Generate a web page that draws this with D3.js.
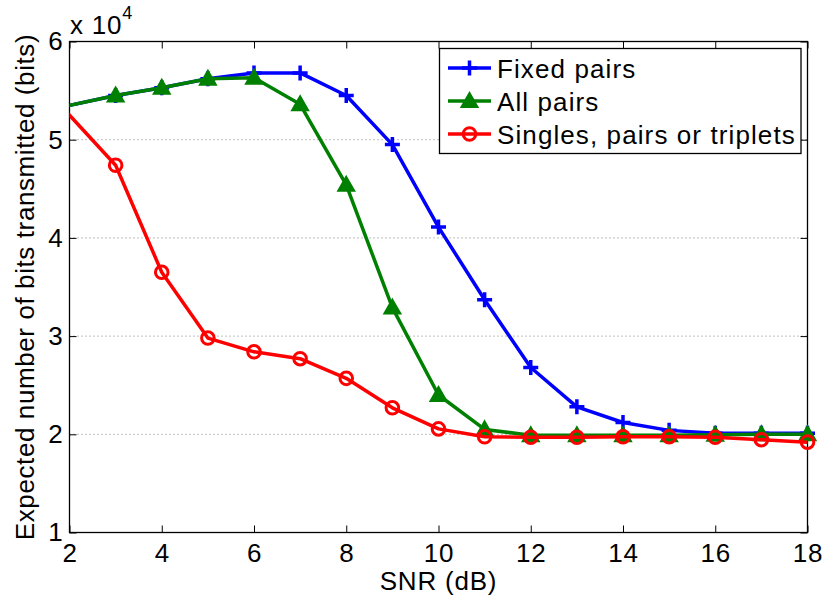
<!DOCTYPE html>
<html>
<head>
<meta charset="utf-8">
<script src="https://cdn.jsdelivr.net/npm/d3@7"></script>
<style>
  html, body { margin: 0; padding: 0; background: #fff; }
  svg { display: block; font-family: "Liberation Sans", Arial, Helvetica, sans-serif; }
</style>
</head>
<body>
<svg id="chart" width="826" height="598"></svg>
<script>
// SNR sample points (dB); the first sample lies left of the visible range
const snr = [1, 3, 4, 5, 6, 7, 8, 9, 10, 11, 12, 13, 14, 15, 16, 17, 18];

// Expected number of bits transmitted (bits)
const fixedPairs = [52500, 54500, 55300, 56200, 56800, 56800, 54500, 49500, 41100, 33700, 26800, 22800, 21200, 20400, 20100, 20100, 20100];
const allPairs   = [52500, 54500, 55300, 56200, 56300, 53600, 45400, 32900, 24000, 20500, 19900, 19900, 19900, 19900, 19950, 20000, 20000];
const singlesPairsTriplets = [57600, 47400, 36500, 29800, 28400, 27700, 25700, 22700, 20550, 19750, 19700, 19700, 19750, 19750, 19700, 19450, 19200];

const seriesNames = ["Fixed pairs", "All pairs", "Singles, pairs or triplets"];
const xTicks = [2, 4, 6, 8, 10, 12, 14, 16, 18];
const yTicks = [10000, 20000, 30000, 40000, 50000, 60000];

const series = [
  { name: seriesNames[0], values: fixedPairs, color: "#0000ff", marker: "plus" },
  { name: seriesNames[1], values: allPairs, color: "#008000", marker: "triangle" },
  { name: seriesNames[2], values: singlesPairsTriplets, color: "#ff0000", marker: "circle" }
];

const svg = d3.select("#chart");
const plotL = 69.5, plotR = 807.5, plotT = 41.5, plotB = 532.5;
const FONT = 26;

const x = d3.scaleLinear().domain([2, 18]).range([plotL, plotR]);
const y = d3.scaleLinear().domain([10000, 60000]).range([plotB, plotT]);

// clipping for the data lines
svg.append("defs").append("clipPath").attr("id", "plotClip")
  .append("rect").attr("x", plotL).attr("y", plotT)
  .attr("width", plotR - plotL).attr("height", plotB - plotT);

// horizontal dotted grid lines
svg.append("g").selectAll("line")
  .data(yTicks.filter(t => t > 10000 && t < 60000))
  .join("line")
  .attr("x1", plotL).attr("x2", plotR)
  .attr("y1", d => y(d)).attr("y2", d => y(d))
  .attr("stroke", "#808080").attr("stroke-width", 1)
  .attr("stroke-dasharray", "1,3");

// axes with inward ticks
const fmtY = d => String(d / 10000);
const axisStyle = g => {
  g.select(".domain").remove();
  g.selectAll(".tick line").attr("stroke", "#000").attr("stroke-width", 1);
  g.selectAll("text").attr("font-size", FONT).attr("fill", "#000")
    .attr("font-family", "Liberation Sans, Arial, sans-serif")
    .attr("letter-spacing", "0.8px");
};

svg.append("g").attr("transform", `translate(0,${plotB})`)
  .call(d3.axisBottom(x).tickValues(xTicks).tickSizeInner(-7).tickSizeOuter(0).tickPadding(11))
  .call(axisStyle);
svg.append("g").attr("transform", `translate(0,${plotT})`)
  .call(d3.axisTop(x).tickValues(xTicks).tickSizeInner(-7).tickSizeOuter(0).tickFormat(""))
  .call(axisStyle);
svg.append("g").attr("transform", `translate(${plotL},0)`)
  .call(d3.axisLeft(y).tickValues(yTicks).tickSizeInner(-7).tickSizeOuter(0).tickPadding(6).tickFormat(fmtY))
  .call(axisStyle);
svg.append("g").attr("transform", `translate(${plotR},0)`)
  .call(d3.axisRight(y).tickValues(yTicks).tickSizeInner(-7).tickSizeOuter(0).tickFormat(""))
  .call(axisStyle);

// axes box
svg.append("rect").attr("x", plotL).attr("y", plotT)
  .attr("width", plotR - plotL).attr("height", plotB - plotT)
  .attr("fill", "none").attr("stroke", "#000").attr("stroke-width", 1.3);

// exponent label
const expo = svg.append("text").attr("x", 70).attr("y", 33.5)
  .attr("font-size", FONT).attr("letter-spacing", "0.8px");
expo.append("tspan").text("x 10");
expo.append("tspan").attr("font-size", 18).attr("dy", -15).text("4");

// axis titles
svg.append("text").attr("x", (plotL + plotR) / 2).attr("y", 590)
  .attr("text-anchor", "middle").attr("font-size", FONT).attr("letter-spacing", "0.8px")
  .text("SNR (dB)");
svg.append("text")
  .attr("transform", `translate(34,${(plotT + plotB) / 2}) rotate(-90)`)
  .attr("text-anchor", "middle").attr("font-size", FONT).attr("letter-spacing", "0.6px")
  .text("Expected number of bits transmitted (bits)");

// marker drawing
function drawMarker(sel, type, color) {
  if (type === "plus") {
    sel.append("path").attr("d", "M-7.5,0H7.5M0,-7.5V7.5")
      .attr("stroke", color).attr("stroke-width", 3.5).attr("fill", "none");
  } else if (type === "triangle") {
    sel.append("path").attr("d", "M0,-8L8,6L-8,6Z")
      .attr("stroke", color).attr("stroke-width", 2).attr("stroke-linejoin", "miter")
      .attr("fill", color);
  } else {
    sel.append("circle").attr("r", 6.3)
      .attr("stroke", color).attr("stroke-width", 3).attr("fill", "none");
  }
}

const line = d3.line().x(d => x(d[0])).y(d => y(d[1]));

series.forEach(s => {
  const pts = snr.map((v, i) => [v, s.values[i]]);
  const g = svg.append("g");
  g.append("path").datum(pts)
    .attr("clip-path", "url(#plotClip)")
    .attr("d", line)
    .attr("fill", "none").attr("stroke", s.color)
    .attr("stroke-width", 3.5).attr("stroke-linejoin", "round");
  g.selectAll("g.mk").data(pts.filter(d => d[0] >= 2 && d[0] <= 18)).join("g")
    .attr("class", "mk")
    .attr("transform", d => `translate(${x(d[0])},${y(d[1])})`)
    .each(function () { drawMarker(d3.select(this), s.marker, s.color); });
});

// legend
const lg = svg.append("g");
lg.append("rect").attr("x", 439.5).attr("y", 48.5).attr("width", 361.5).attr("height", 105)
  .attr("fill", "#fff").attr("stroke", "#000").attr("stroke-width", 1.3);
series.forEach((s, i) => {
  const cy = 68 + i * 33;
  lg.append("line").attr("x1", 448).attr("x2", 491).attr("y1", cy).attr("y2", cy)
    .attr("stroke", s.color).attr("stroke-width", 3.5);
  drawMarker(lg.append("g").attr("transform", `translate(469.5,${cy})`), s.marker, s.color);
  lg.append("text").attr("x", 497).attr("y", cy + 9.5)
    .attr("font-size", FONT).attr("letter-spacing", "1.1px").text(s.name);
});
</script>
</body>
</html>
